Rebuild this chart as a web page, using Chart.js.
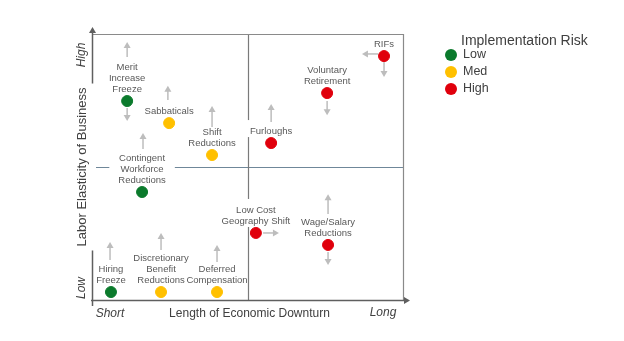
<!DOCTYPE html>
<html>
<head>
<meta charset="utf-8">
<script src="https://cdn.jsdelivr.net/npm/chart.js@4.4.1/dist/chart.umd.min.js"></script>
<style>
  body { margin: 0; background: #fff; }
  #wrap { width: 624px; height: 341px; }
</style>
</head>
<body>
<div id="wrap"><canvas id="myCanvas" width="624" height="341"></canvas></div>
<script>
// cost-cutting levers, placed by downturn length (x) and labor elasticity (y), 0..10
const names = [
  ['Merit', 'Increase', 'Freeze'],
  ['Sabbaticals'],
  ['Shift', 'Reductions'],
  ['Contingent', 'Workforce', 'Reductions'],
  ['Furloughs'],
  ['Voluntary', 'Retirement'],
  ['RIFs'],
  ['Low Cost', 'Geography Shift'],
  ['Wage/Salary', 'Reductions'],
  ['Hiring', 'Freeze'],
  ['Discretionary', 'Benefit', 'Reductions'],
  ['Deferred', 'Compensation']
];
const xVals = [1.13, 2.48, 3.86, 1.61, 5.76, 7.56, 9.39, 5.27, 7.59, 0.61, 2.22, 4.02];
const yVals = [7.48, 6.65, 5.45, 4.06, 5.90, 7.78, 9.17, 2.52, 2.07, 0.30, 0.30, 0.30];
const risk = ['Low', 'Med', 'Med', 'Low', 'High', 'High', 'High', 'High', 'High', 'Low', 'Med', 'Med'];

const riskLevels = ['Low', 'Med', 'High'];
const riskColors = ['#0b7a2c', '#ffc000', '#e0000c'];

// trend arrows: [xFrom, yFrom, xTo, yTo]
const arrows = [
  [1.13, 9.14, 1.13, 9.70],
  [1.13, 7.22, 1.13, 6.73],
  [2.44, 7.52, 2.44, 8.05],
  [3.86, 6.50, 3.86, 7.29],
  [1.64, 5.68, 1.64, 6.28],
  [5.76, 6.69, 5.76, 7.37],
  [7.56, 7.48, 7.56, 6.95],
  [9.20, 9.25, 8.68, 9.25],
  [9.39, 8.95, 9.39, 8.38],
  [5.50, 2.52, 6.01, 2.52],
  [7.59, 3.23, 7.59, 3.98],
  [7.59, 1.80, 7.59, 1.32],
  [0.58, 1.50, 0.58, 2.18],
  [2.22, 1.88, 2.22, 2.52],
  [4.02, 1.43, 4.02, 2.07]
];

const xTitle = 'Length of Economic Downturn';
const yTitle = 'Labor Elasticity of Business';
const xEnds = ['Short', 'Long'];
const yEnds = ['Low', 'High'];
const legendTitle = 'Implementation Risk';

const FONT = '"Liberation Sans", Arial, sans-serif';
// labels whose text box is filled white and cuts through the dividers
const opaqueLabels = new Set([3, 4, 7]);

const datasets = riskLevels.map((lvl, k) => ({
  label: lvl,
  data: xVals.map((x, i) => ({ x: x, y: yVals[i] })).filter((p, i) => risk[i] === lvl),
  backgroundColor: riskColors[k],
  borderColor: riskColors[k],
  pointRadius: 5.5,
  pointHoverRadius: 5.5
}));

function line(ctx, x1, y1, x2, y2, color, w) {
  ctx.beginPath();
  ctx.moveTo(x1, y1);
  ctx.lineTo(x2, y2);
  ctx.strokeStyle = color;
  ctx.lineWidth = w;
  ctx.stroke();
}

function arrowHead(ctx, x1, y1, x2, y2, color, len, half) {
  const a = Math.atan2(y2 - y1, x2 - x1);
  ctx.beginPath();
  ctx.moveTo(x2, y2);
  ctx.lineTo(x2 - len * Math.cos(a) + half * Math.sin(a), y2 - len * Math.sin(a) - half * Math.cos(a));
  ctx.lineTo(x2 - len * Math.cos(a) - half * Math.sin(a), y2 - len * Math.sin(a) + half * Math.cos(a));
  ctx.closePath();
  ctx.fillStyle = color;
  ctx.fill();
}

const quadrantPlugin = {
  id: 'quadrant',
  beforeDatasetsDraw(chart) {
    const ctx = chart.ctx;
    const xs = chart.scales.x, ys = chart.scales.y;
    const { left, right, top, bottom } = chart.chartArea;
    const cx = Math.round(xs.getPixelForValue(5)) + 0.5;
    const cy = Math.round(ys.getPixelForValue(5)) + 0.5;
    ctx.save();

    // quadrant dividers
    line(ctx, left, cy, right, cy, '#6f8799', 1.2);
    line(ctx, cx, top, cx, bottom, '#7a7a7a', 1.2);

    // lever labels: stacked upward from just above each dot
    ctx.font = '9.5px ' + FONT;
    ctx.textAlign = 'center';
    ctx.textBaseline = 'middle';
    const placed = names.map((lines, i) => {
      const px = xs.getPixelForValue(xVals[i]);
      const py = ys.getPixelForValue(yVals[i]);
      const lastY = py - 12;
      return { lines, px, lastY, firstY: lastY - (lines.length - 1) * 11 };
    });
    placed.forEach((p, i) => {
      if (!opaqueLabels.has(i)) return;
      const w = Math.max(...p.lines.map(t => ctx.measureText(t).width));
      ctx.fillStyle = '#fff';
      ctx.fillRect(p.px - w / 2 - 9, p.firstY - 11, w + 18, p.lastY - p.firstY + 17);
    });
    ctx.fillStyle = '#595959';
    placed.forEach(p => p.lines.forEach((t, j) => ctx.fillText(t, p.px, p.firstY + j * 11)));

    // outer frame
    line(ctx, left, top + 0.5, right, top + 0.5, '#8a8a8a', 1.2);
    line(ctx, right + 0.5, top, right + 0.5, bottom, '#8a8a8a', 1.2);
    line(ctx, left + 0.5, bottom + 6, left + 0.5, top - 2, '#5f5f5f', 1.5);
    arrowHead(ctx, left + 0.5, bottom, left + 0.5, top - 7, '#5f5f5f', 6, 3.5);
    line(ctx, left - 1, bottom + 0.5, right + 2, bottom + 0.5, '#5f5f5f', 1.5);
    arrowHead(ctx, left, bottom + 0.5, right + 7, bottom + 0.5, '#5f5f5f', 6, 3.5);

    // y axis title sits on a white box over the axis line
    const yMid = (top + bottom) / 2;
    ctx.font = '13px ' + FONT;
    const yw = ctx.measureText(yTitle).width;
    ctx.fillStyle = '#fff';
    ctx.fillRect(left - 18, yMid - yw / 2 - 4, 22, yw + 8);
    ctx.translate(left - 10, yMid);
    ctx.rotate(-Math.PI / 2);
    ctx.fillStyle = '#404040';
    ctx.fillText(yTitle, 0, 0);
    ctx.font = 'italic 12px ' + FONT;
    ctx.fillText(yEnds[1], yMid - 55, 0);
    ctx.fillText(yEnds[0], yMid - 288, 0);
    ctx.setTransform(1, 0, 0, 1, 0, 0);

    // x axis title and ends
    ctx.font = '12px ' + FONT;
    ctx.fillText(xTitle, (left + right) / 2 + 2, bottom + 14);
    ctx.font = 'italic 12px ' + FONT;
    ctx.fillText(xEnds[0], left + 18, bottom + 14);
    ctx.fillText(xEnds[1], right - 20, bottom + 13);

    // trend arrows
    arrows.forEach(a => {
      const x1 = xs.getPixelForValue(a[0]), y1 = ys.getPixelForValue(a[1]);
      const x2 = xs.getPixelForValue(a[2]), y2 = ys.getPixelForValue(a[3]);
      const ang = Math.atan2(y2 - y1, x2 - x1);
      line(ctx, x1, y1, x2 - 4 * Math.cos(ang), y2 - 4 * Math.sin(ang), '#bdbdbd', 1.5);
      arrowHead(ctx, x1, y1, x2, y2, '#bdbdbd', 6, 3.5);
    });

    // legend
    ctx.textAlign = 'left';
    ctx.font = '14px ' + FONT;
    ctx.fillStyle = '#404040';
    ctx.fillText(legendTitle, right + 58, 41);
    ctx.font = '12.5px ' + FONT;
    riskLevels.forEach((lvl, k) => {
      const ly = 55 + k * 17;
      ctx.beginPath();
      ctx.arc(right + 48, ly, 6, 0, Math.PI * 2);
      ctx.fillStyle = riskColors[k];
      ctx.fill();
      ctx.fillStyle = '#404040';
      ctx.fillText(lvl, right + 60, ly);
    });
    ctx.restore();
  }
};

const ctx = document.getElementById('myCanvas').getContext('2d');
const chart = new Chart(ctx, {
  type: 'scatter',
  data: { datasets: datasets },
  options: {
    responsive: false,
    animation: false,
    layout: { padding: { left: 92, top: 34, right: 221, bottom: 41 } },
    scales: {
      x: { type: 'linear', min: 0, max: 10, display: false },
      y: { type: 'linear', min: 0, max: 10, display: false }
    },
    plugins: {
      legend: { display: false },
      tooltip: { enabled: false }
    }
  },
  plugins: [quadrantPlugin]
});
</script>
</body>
</html>
